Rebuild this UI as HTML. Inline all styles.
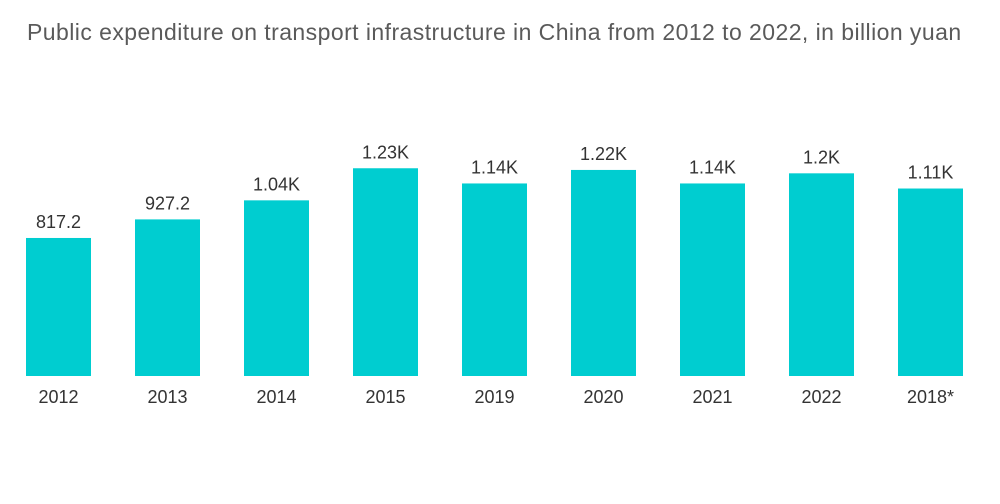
<!DOCTYPE html>
<html><head><meta charset="utf-8"><style>
html,body{margin:0;padding:0;background:#fff;}
body{width:1000px;height:504px;overflow:hidden;font-family:"Liberation Sans",sans-serif;}
#title{position:absolute;left:27px;top:19px;font-size:23px;color:#5a5a5a;white-space:nowrap;letter-spacing:0.44px;}
svg{position:absolute;left:0;top:0;}
</style></head><body>
<div id="title">Public expenditure on transport infrastructure in China from 2012 to 2022, in billion yuan</div>
<svg id="chart" width="1000" height="504"></svg>
<script>
const categories=["2012","2013","2014","2015","2019","2020","2021","2022","2018*"];
const values=[817.2,927.2,1040,1230,1140,1220,1140,1200,1110];
const valueLabels=["817.2","927.2","1.04K","1.23K","1.14K","1.22K","1.14K","1.2K","1.11K"];
const svg=document.getElementById('chart');
const NS='http://www.w3.org/2000/svg';
const baseY=376, scale=0.1689, x0=26, step=109, bw=65;
const xPos=i=>x0+i*step;
const yPos=v=>baseY-v*scale;
categories.forEach((c,i)=>{
  const r=document.createElementNS(NS,'rect');
  
  
  r.setAttribute('x',xPos(i));r.setAttribute('y',yPos(values[i]));
  r.setAttribute('width',bw);r.setAttribute('height',baseY-yPos(values[i]));
  r.setAttribute('fill','#00cdd0');svg.appendChild(r);
  const t=document.createElementNS(NS,'text');
  
  
  t.setAttribute('x',xPos(i)+bw/2);t.setAttribute('y',yPos(values[i])-10);
  t.setAttribute('text-anchor','middle');t.setAttribute('font-size','18');t.setAttribute('fill','#333');
  t.textContent=valueLabels[i];svg.appendChild(t);
  const l=document.createElementNS(NS,'text');
  
  
  l.setAttribute('x',xPos(i)+bw/2);l.setAttribute('y',403);
  l.setAttribute('text-anchor','middle');l.setAttribute('font-size','18');l.setAttribute('fill','#333');
  l.textContent=c;svg.appendChild(l);
});
</script>
</body></html>
